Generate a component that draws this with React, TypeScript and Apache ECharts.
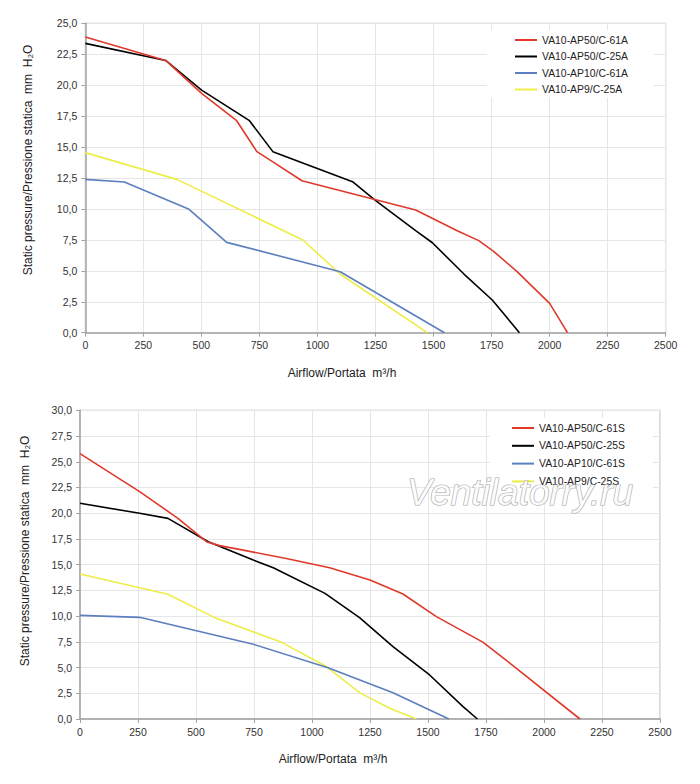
import React, { useEffect, useRef } from "react";
import * as echarts from "echarts";

const FONT = '"Liberation Sans", Arial, sans-serif';

const xTicks = [0, 250, 500, 750, 1000, 1250, 1500, 1750, 2000, 2250, 2500];

const namesA = ["VA10-AP50/C-61A", "VA10-AP50/C-25A", "VA10-AP10/C-61A", "VA10-AP9/C-25A"];
const namesS = ["VA10-AP50/C-61S", "VA10-AP50/C-25S", "VA10-AP10/C-61S", "VA10-AP9/C-25S"];
const colors = ["#e0392c", "#000000", "#5b7fbf", "#eded47"];

const red61A = [[0, 23.9], [346, 22.0], [501, 19.34], [652, 17.13], [739, 14.63], [808, 13.8], [933, 12.28], [1423, 9.91], [1602, 8.24], [1695, 7.44], [1760, 6.55], [1860, 4.93], [2000, 2.37], [2077, 0]];
const black25A = [[0, 23.38], [346, 22.0], [501, 19.6], [707, 17.13], [808, 14.63], [1151, 12.2], [1244, 10.78], [1308, 9.86], [1423, 8.24], [1495, 7.27], [1631, 4.74], [1753, 2.64], [1870, 0]];
const blue61A = [[0, 12.39], [168, 12.18], [447, 9.97], [609, 7.3], [1098, 4.93], [1547, 0]];
const yellow25A = [[0, 14.55], [394, 12.39], [937, 7.49], [1100, 4.7], [1473, 0]];

const red61S = [[0, 25.79], [257, 22.1], [422, 19.5], [545, 17.23], [602, 16.85], [889, 15.6], [1076, 14.7], [1250, 13.5], [1392, 12.15], [1536, 9.95], [1738, 7.45], [1881, 4.92], [2155, 0]];
const black25S = [[0, 20.96], [257, 19.99], [379, 19.5], [553, 17.23], [747, 15.45], [833, 14.7], [1056, 12.21], [1205, 9.85], [1349, 7.03], [1507, 4.28], [1651, 1.2], [1713, 0]];
const blue61S = [[0, 10.07], [257, 9.88], [747, 7.26], [1069, 4.99], [1349, 2.56], [1590, 0]];
const yellow25S = [[0, 14.09], [379, 12.12], [587, 9.78], [869, 7.45], [1056, 5.18], [1205, 2.56], [1335, 1.04], [1450, 0]];

const dataA = [red61A, black25A, blue61A, yellow25A];
const dataS = [red61S, black25S, blue61S, yellow25S];

const yTitle = "Static pressure/Pressione statica  mm  H\u2082O";
const xTitle = "Airflow/Portata  m\u00b3/h";

export default function App() {
  const ref = useRef<HTMLDivElement>(null);
  useEffect(() => {
    if (!ref.current) return;
    const chart = echarts.init(ref.current, undefined, { renderer: "svg" });
    const fmtY = (v: number) => v.toFixed(1).replace(".", ",");
    const xAxisBase = (gi: number) => ({
      type: "value",
      gridIndex: gi,
      min: xTicks[0],
      max: xTicks[xTicks.length - 1],
      interval: xTicks[1] - xTicks[0],
      axisLine: { show: true, lineStyle: { color: "#a3a3a3", width: 1.5 } },
      axisTick: { show: true, length: 4, lineStyle: { color: "#a3a3a3" } },
      axisLabel: { color: "#333", fontSize: 10.5, margin: 7, fontFamily: FONT, formatter: (v: number) => String(v) },
      splitLine: { show: true, lineStyle: { color: "#e6e6e6" } },
    });
    const yAxisBase = (gi: number, max: number) => ({
      type: "value",
      gridIndex: gi,
      min: 0,
      max,
      interval: 2.5,
      axisLine: { show: true, lineStyle: { color: "#a3a3a3", width: 1.5 } },
      axisTick: { show: true, length: 4, lineStyle: { color: "#a3a3a3" } },
      axisLabel: { color: "#333", fontSize: 10.5, margin: 8, fontFamily: FONT, formatter: fmtY },
      splitLine: { show: true, lineStyle: { color: "#e6e6e6" } },
    });
    const mkSeries = (names: string[], data: number[][][], idx: number) =>
      names.map((n, i) => ({
        name: n,
        type: "line",
        xAxisIndex: idx,
        yAxisIndex: idx,
        data: data[i],
        symbol: "none",
        color: colors[i],
        lineStyle: { color: colors[i], width: 1.6 },
        z: 10 - i,
      }));
    const legendBase = {
      orient: "vertical",
      icon: "rect",
      itemWidth: 22,
      itemHeight: 2,
      backgroundColor: "#fff",
      textStyle: { fontSize: 10.4, lineHeight: 10, color: "#222", fontFamily: FONT },
      selectedMode: false,
    };
    chart.setOption({
      animation: false,
      backgroundColor: "#fff",
      grid: [
        { left: 85.3, top: 23.3, width: 580.4, height: 309.4, show: true, borderColor: "#b3b3b3", borderWidth: 1 },
        { left: 80, top: 410.3, width: 580, height: 308.7, show: true, borderColor: "#b3b3b3", borderWidth: 1 },
      ],
      xAxis: [xAxisBase(0), xAxisBase(1)],
      yAxis: [yAxisBase(0, 25), yAxisBase(1, 30)],
      legend: [
        { ...legendBase, data: namesA, left: 487, top: 30, padding: [5, 26, 3, 28], itemGap: 6.5 },
        { ...legendBase, data: namesS, left: 490, top: 418, padding: [5, 28, 5, 22], itemGap: 7.8 },
      ],
      series: [...mkSeries(namesA, dataA, 0), ...mkSeries(namesS, dataS, 1)],
      graphic: [
        { type: "text", x: 28, y: 160, rotation: Math.PI / 2, style: { text: yTitle, align: "center", verticalAlign: "middle", font: `12px ${FONT}`, fill: "#222" } },
        { type: "text", x: 342, y: 372.7, style: { text: xTitle, align: "center", verticalAlign: "middle", font: `12px ${FONT}`, fill: "#222" } },
        { type: "text", x: 25, y: 551, rotation: Math.PI / 2, style: { text: yTitle, align: "center", verticalAlign: "middle", font: `12px ${FONT}`, fill: "#222" } },
        { type: "text", x: 333, y: 759, style: { text: xTitle, align: "center", verticalAlign: "middle", font: `12px ${FONT}`, fill: "#222" } },
        { type: "text", x: 520, y: 492, z: 100, style: { text: "Ventilatorry.ru", align: "center", verticalAlign: "middle", font: `italic 37px ${FONT}`, fill: "rgba(255,255,255,0.9)", stroke: "#a8a8a8", lineWidth: 1.2 } },
      ],
    });
    return () => chart.dispose();
  }, []);
  return <div ref={ref} style={{ position: "fixed", left: 0, top: 0, width: 700, height: 784 }} />;
}
